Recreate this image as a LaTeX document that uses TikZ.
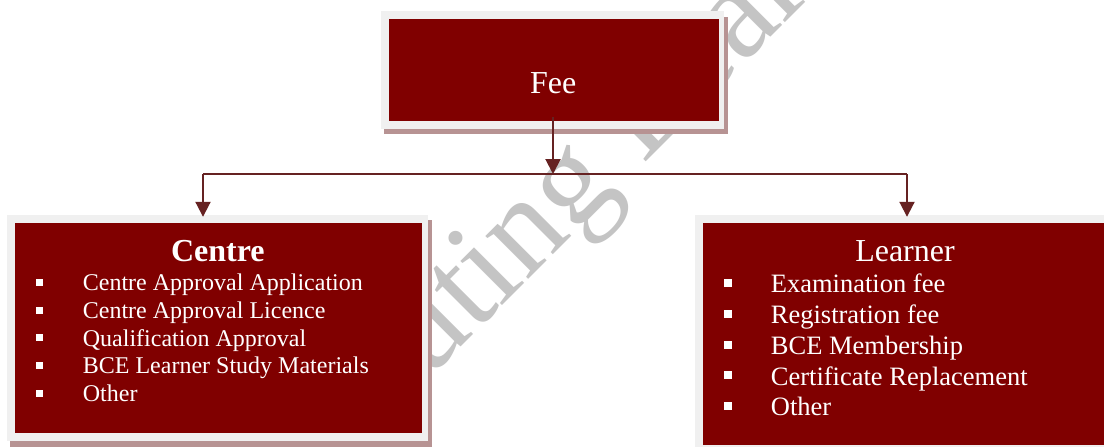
\documentclass[tikz,border=0pt]{standalone}
\usepackage{fontspec}
\setmainfont{Liberation Serif}
\usetikzlibrary{arrows.meta,calc,backgrounds}
\definecolor{boxred}{RGB}{128,0,0}
\definecolor{framegray}{RGB}{240,240,240}
\definecolor{shadowrose}{RGB}{183,147,147}
\definecolor{connc}{RGB}{102,34,34}
\definecolor{wmgray}{RGB}{196,196,196}
\tikzset{
  redbox/.style={fill=boxred, draw=none, inner sep=0pt},
  framebox/.style={fill=framegray, draw=none},
  shadowbox/.style={fill=shadowrose, draw=none},
  headtxt/.style={text=white, inner sep=0pt, anchor=base, font=\fontsize{32}{36}\selectfont},
  itemc/.style={text=white, inner sep=0pt, anchor=base west, font=\fontsize{24}{28}\selectfont},
  iteml/.style={text=white, inner sep=0pt, anchor=base west, font=\fontsize{26.5}{30}\selectfont},
  bulc/.style={fill=white, draw=none, inner sep=0pt, minimum width=7pt, minimum height=7pt},
  bull/.style={fill=white, draw=none, inner sep=0pt, minimum width=8pt, minimum height=8pt},
  connline/.style={draw=connc, line width=2pt},
  conarrow/.style={-{Triangle[length=15pt,width=15pt]}},
  wmtxt/.style={text=wmgray, inner sep=0pt, anchor=base west, rotate=45, font=\fontsize{132}{140}\selectfont}
}
\begin{document}
\begin{tikzpicture}[x=1pt,y=-1pt]
\useasboundingbox (0,0) rectangle (1104,447);
\clip (0,0) rectangle (1104,447);

% red boxes
\node[redbox, minimum width=330pt, minimum height=102pt] (fee) at (554,70) {};
\node[redbox, minimum width=407pt, minimum height=210pt] (centre) at (218.5,328) {};
\node[redbox, minimum width=404pt, minimum height=222pt] (learner) at (905,334) {};

\begin{scope}[on background layer]
  \fill[white] (0,0) rectangle (1104,447);
  \node[wmtxt] (wmark) at (200,608) {Computing Learning};
  % shadows
  \fill[shadowbox] ($(fee.south west)+(-5,13)$) rectangle ($(fee.north east)+(9,-2)$);
  \fill[shadowbox] ($(centre.south west)+(-5,14)$) rectangle ($(centre.north east)+(10,-3)$);
  \fill[shadowbox] ($(learner.south west)+(-5,14)$) rectangle ($(learner.north east)+(10,-3)$);
  % frames
  \fill[framebox] ($(fee.south west)+(-7.5,7.5)$) rectangle ($(fee.north east)+(4.5,-8)$);
  \fill[framebox] ($(centre.south west)+(-8,8)$) rectangle ($(centre.north east)+(6,-8)$);
  \fill[framebox] ($(learner.south west)+(-8,8)$) rectangle ($(learner.north east)+(6,-8)$);
\end{scope}

% headings
\node[headtxt] (feetxt) at (553.3,93.3) {Fee};
\node[headtxt, font=\fontsize{32}{36}\selectfont\bfseries] (centretxt) at (217.8,261.7) {Centre};
\node[headtxt] (learnertxt) at (905,261) {Learner};

% centre items
\foreach \t [count=\i] in {Centre Approval Application, Centre Approval Licence, Qualification Approval, BCE Learner Study Materials, Other}{
  \pgfmathsetmacro{\yy}{290.7+27.7*(\i-1)}
  \node[itemc] (c\i) at (82.7,\yy) {\t};
  \node[bulc] (cb\i) at (39.5,\yy-8.2) {};
}
% learner items
\foreach \t [count=\i] in {Examination fee, Registration fee, BCE Membership, Certificate Replacement, Other}{
  \pgfmathsetmacro{\yy}{292.7+30.8*(\i-1)}
  \node[iteml] (l\i) at (770.7,\yy) {\t};
  \node[bull] (lb\i) at (728,\yy-9.7) {};
}

% connectors
\coordinate (jc) at (553,174);
\coordinate (jl) at (203,174);
\coordinate (jr) at (907,174);
\draw[connline, conarrow, shorten <=-4pt] (fee.south -| jc) -- (jc);
\draw[connline] (jl) -- (jr);
\draw[connline, conarrow, shorten >=6pt] (jl) -- (jl |- centre.north);
\draw[connline, conarrow, shorten >=6pt] (jr) -- (jr |- learner.north);
\end{tikzpicture}
\end{document}
